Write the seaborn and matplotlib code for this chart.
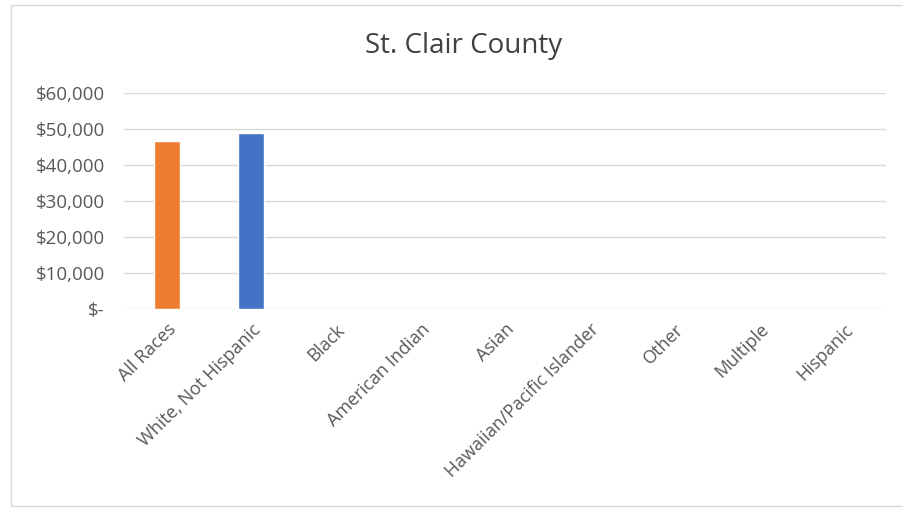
import numpy as np
import pandas as pd
import matplotlib
matplotlib.use("Agg")
import matplotlib.pyplot as plt
import seaborn as sns
from matplotlib.ticker import FuncFormatter
from matplotlib.patches import Rectangle

categories = ["All Races", "White, Not Hispanic", "Black", "American Indian", "Asian",
              "Hawaiian/Pacific Islander", "Other", "Multiple", "Hispanic"]
income = [46600, 48900, np.nan, np.nan, np.nan, np.nan, np.nan, np.nan, np.nan]
bar_colors = ["#ED7D31", "#4472C4", "#A5A5A5", "#FFC000", "#5B9BD5",
              "#70AD47", "#264478", "#9E480E", "#636363"]
title = "St. Clair County"

sns.set_theme(style="white")
plt.rcParams["font.family"] = ["Open Sans", "DejaVu Sans"]

df = pd.DataFrame({"race": categories, "income": income})

fig = plt.figure(figsize=(9.04, 5.08), dpi=100)
ax = fig.add_axes([0.1375, 0.391, 0.843, 0.4265])

sns.barplot(data=df, x="race", y="income", hue="race", order=categories,
            hue_order=categories, palette=bar_colors, width=0.31,
            legend=False, ax=ax, saturation=1)

ax.set_ylim(0, 60000)
ax.set_yticks(np.arange(0, 60001, 10000))
ax.yaxis.set_major_formatter(FuncFormatter(
    lambda v, p: "$-" if v == 0 else f"${v:,.0f}"))
ax.grid(axis="y", color="#d9d9d9", linewidth=1)
ax.set_axisbelow(True)
for s in ax.spines.values():
    s.set_visible(False)
ax.tick_params(axis="both", length=0, colors="#595959")
ax.tick_params(axis="y", pad=14, labelsize=13.5)
ax.tick_params(axis="x", pad=8, labelsize=13)
ax.set_xlabel("")
ax.set_ylabel("")
plt.setp(ax.get_xticklabels(), rotation=45, ha="right", rotation_mode="anchor")
for lab in ax.get_xticklabels() + ax.get_yticklabels():
    lab.set_color("#595959")

fig.text(0.513, 0.91, title, ha="center", va="center", fontsize=20, color="#404040")

# chart area frame
fig.patches.append(Rectangle((11 / 904, 2 / 508), 0.99, 1 - 7 / 508,
                             transform=fig.transFigure, fill=False,
                             edgecolor="#d9d9d9", linewidth=1))

fig.savefig("out.png", dpi=100)
